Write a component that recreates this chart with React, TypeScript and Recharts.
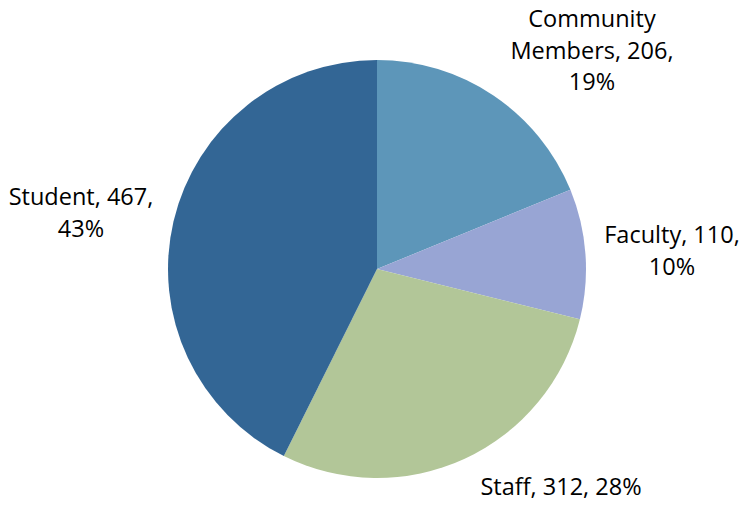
import React from "react";
import { PieChart, Pie, Cell } from "recharts";

const CATEGORIES = ["Community Members", "Faculty", "Staff", "Student"];
const VALUES = [206, 110, 312, 467];

const COLORS = ["#5D96B9", "#98A5D4", "#B2C698", "#336695"];

// label anchor (first-line baseline) relative to pie center, plus wrap width in chars
const LABEL_POS = [
  { dx: 215, dy: -242, wrap: 13 },
  { dx: 295, dy: -26, wrap: 13 },
  { dx: 184, dy: 226, wrap: 16 },
  { dx: -296, dy: -64, wrap: 13 },
];

const data = CATEGORIES.map((name, i) => ({ name, value: VALUES[i] }));

function wrapText(s: string, max: number): string[] {
  const words = s.split(" ");
  const lines: string[] = [];
  let cur = "";
  for (const w of words) {
    const next = cur ? cur + " " + w : w;
    if (next.length > max && cur) {
      lines.push(cur);
      cur = w;
    } else {
      cur = next;
    }
  }
  if (cur) lines.push(cur);
  return lines;
}

const renderLabel = (props: any) => {
  const { cx, cy, index, name, value, percent } = props;
  const pos = LABEL_POS[index];
  const text = `${name}, ${value}, ${Math.round(percent * 100)}%`;
  const lines = wrapText(text, pos.wrap);
  return (
    <text
      x={cx + pos.dx}
      y={cy + pos.dy}
      textAnchor="middle"
      fill="#000"
      fontSize={23.5}
      fontFamily="'Open Sans', 'Liberation Sans', sans-serif"
    >
      {lines.map((ln, i) => (
        <tspan key={i} x={cx + pos.dx} dy={i === 0 ? 0 : 31.5}>
          {ln}
        </tspan>
      ))}
    </text>
  );
};

export default function App() {
  return (
    <div style={{ position: "absolute", left: 0, top: 0, width: 750, height: 505, background: "#fff" }}>
      <PieChart width={750} height={505} margin={{ top: 0, right: 0, bottom: 0, left: 0 }}>
        <Pie
          data={data}
          dataKey="value"
          nameKey="name"
          cx={377}
          cy={269}
          outerRadius={209}
          startAngle={90}
          endAngle={-270}
          stroke="none"
          label={renderLabel}
          labelLine={false}
          isAnimationActive={false}
        >
          {data.map((_, i) => (
            <Cell key={i} fill={COLORS[i]} />
          ))}
        </Pie>
      </PieChart>
    </div>
  );
}
